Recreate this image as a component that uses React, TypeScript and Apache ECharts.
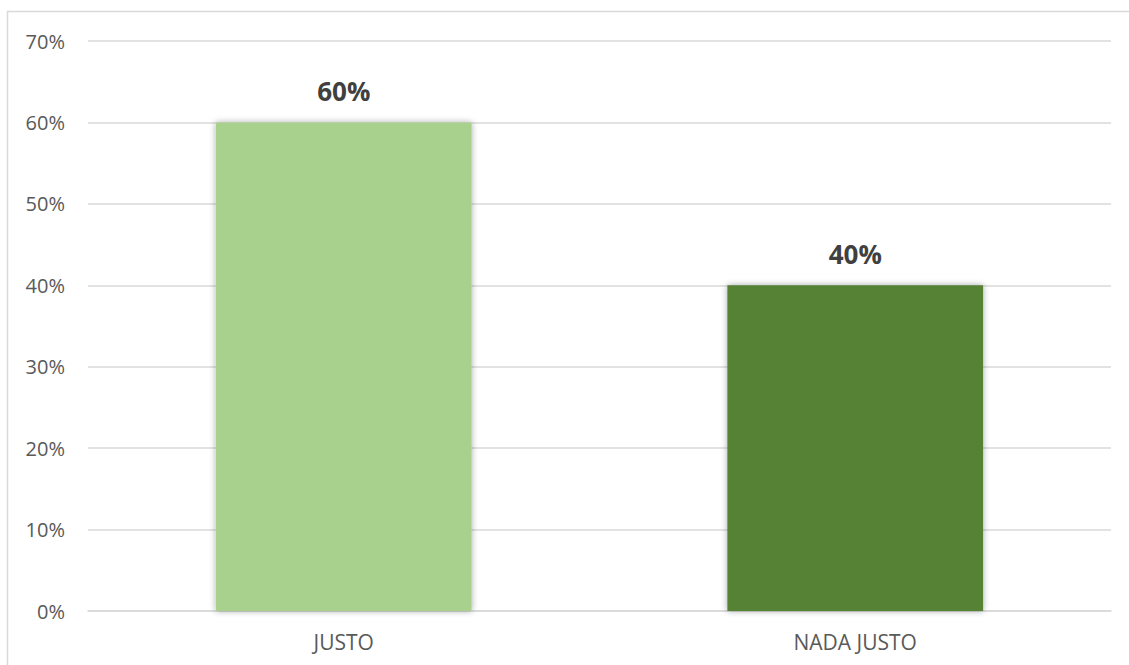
import React, { useEffect, useRef } from "react";
import * as echarts from "echarts";

const categories = ["JUSTO", "NADA JUSTO"];
const values = [60, 40];
const barColors = ["#A9D18E", "#548235"];
const yTicks = [0, 10, 20, 30, 40, 50, 60, 70];

export default function App() {
  const ref = useRef<HTMLDivElement>(null);
  useEffect(() => {
    if (!ref.current) return;
    const chart = echarts.init(ref.current, null, { renderer: "svg" });
    const font = "'Open Sans', 'Noto Sans', sans-serif";
    chart.setOption({
      animation: false,
      backgroundColor: "#ffffff",
      grid: { left: 88, right: 18, top: 41, bottom: 54, containLabel: false },
      graphic: [
        {
          type: "rect",
          shape: { x: 7.5, y: 11.5, width: 1200, height: 1000 },
          style: { fill: "none", stroke: "#d9d9d9", lineWidth: 1.5 },
          silent: true,
          z: -1,
        },
      ],
      xAxis: {
        type: "category",
        data: categories,
        axisTick: { show: false },
        axisLine: { lineStyle: { color: "#d9d9d9", width: 1.5 } },
        axisLabel: { color: "#595959", fontSize: 21, fontFamily: font, margin: 20 },
      },
      yAxis: {
        type: "value",
        min: yTicks[0],
        max: yTicks[yTicks.length - 1],
        interval: 10,
        axisLine: { show: false },
        axisTick: { show: false },
        splitLine: { lineStyle: { color: "#d9d9d9", width: 1.5 } },
        axisLabel: {
          color: "#595959",
          fontSize: 20,
          fontFamily: font,
          margin: 23,
          formatter: (v: number) => v + "%",
        },
      },
      series: [
        {
          type: "bar",
          barWidth: "50%",
          data: values.map((v, i) => ({
            value: v,
            itemStyle: {
              color: barColors[i],
              shadowColor: "rgba(0,0,0,0.35)",
              shadowBlur: 6,
              shadowOffsetX: 0,
              shadowOffsetY: 0,
            },
          })),
          label: {
            show: true,
            position: "top",
            distance: 18,
            color: "#404040",
            fontSize: 26,
            fontWeight: "bold",
            fontFamily: font,
            formatter: (p: any) => p.value + "%",
          },
        },
      ],
    });
    return () => chart.dispose();
  }, []);
  return (
    <div
      ref={ref}
      style={{ position: "absolute", left: 0, top: 0, width: 1129, height: 665 }}
    />
  );
}
